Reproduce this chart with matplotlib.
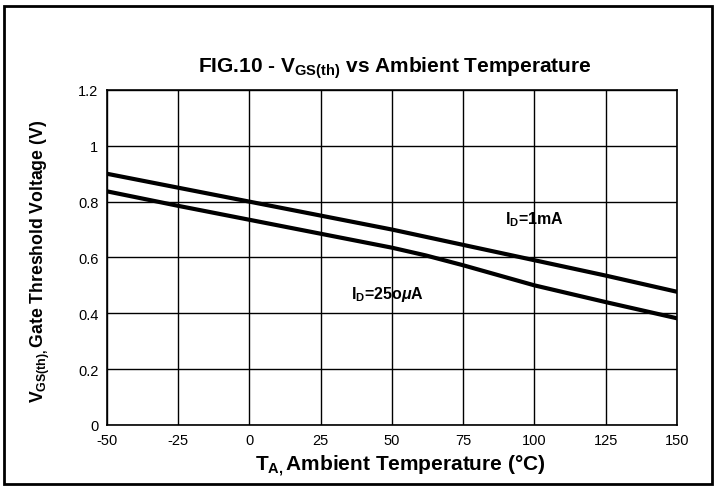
import numpy as np
import matplotlib.pyplot as plt
from matplotlib.patches import Rectangle

plt.rcParams['font.family'] = ['Liberation Sans', 'DejaVu Sans']
plt.rcParams['mathtext.fontset'] = 'custom'
plt.rcParams['mathtext.rm'] = 'Liberation Sans'
plt.rcParams['mathtext.bf'] = 'Liberation Sans:bold'
plt.rcParams['mathtext.it'] = 'Liberation Sans:bold:italic'
plt.rcParams['mathtext.sf'] = 'Liberation Sans'
plt.rcParams['axes.unicode_minus'] = False

# temperature points (degC)
temp_1ma = [-50, -25, 0, 25, 50, 75, 100, 125, 150]
vgs_1ma = [0.90, 0.85, 0.80, 0.75, 0.70, 0.645, 0.59, 0.535, 0.477]

temp_250ua = [-50, -25, 0, 25, 50, 62, 75, 100, 125, 150]
vgs_250ua = [0.837, 0.785, 0.735, 0.685, 0.635, 0.607, 0.572, 0.50, 0.44, 0.382]

xticks = [-50, -25, 0, 25, 50, 75, 100, 125, 150]
yticks = [0, 0.2, 0.4, 0.6, 0.8, 1.0, 1.2]
ytick_labels = ['0', '0.2', '0.4', '0.6', '0.8', '1', '1.2']

fig = plt.figure(figsize=(7.16, 4.89), dpi=100)

# outer frame
fig.patches.append(Rectangle((0.006, 0.008), 0.988, 0.978, transform=fig.transFigure,
                             fill=False, edgecolor='black', linewidth=2.0))

ax = fig.add_axes([0.149, 0.129, 0.7965, 0.685])

ax.plot(temp_1ma, vgs_1ma, color='black', lw=3.0, solid_capstyle='round')
ax.plot(temp_250ua, vgs_250ua, color='black', lw=3.0, solid_capstyle='round')

ax.set_xlim(-50, 150)
ax.set_ylim(0, 1.2)
ax.set_xticks(xticks)
ax.set_yticks(yticks)
ax.set_yticklabels(ytick_labels)
ax.tick_params(length=0, labelsize=10.5, pad=6)
ax.grid(True, color='black', lw=1.0)
for s in ax.spines.values():
    s.set_linewidth(1.2)

ax.text(100, 0.74, r'I$_\mathbf{D}$=1mA', fontsize=11.5, fontweight='bold', ha='center', va='center')
ax.text(48.5, 0.47, r'I$_\mathbf{D}$=25o$\mu$A', fontsize=11.5, fontweight='bold', ha='center', va='center')

ax.set_title(r'FIG.10 - V$_\mathbf{GS(th)}$ vs Ambient Temperature', fontsize=15, fontweight='bold', pad=13, x=0.505)
ax.set_xlabel('T$_\\mathbf{A,}$Ambient Temperature (\u00b0C)', fontsize=15, fontweight='bold', labelpad=4, x=0.515)
ax.set_ylabel(r'V$_\mathbf{GS(th),}$Gate Threshold Voltage (V)', fontsize=12.7, fontweight='bold', labelpad=19, y=0.49)

plt.savefig('out.png', dpi=100)
